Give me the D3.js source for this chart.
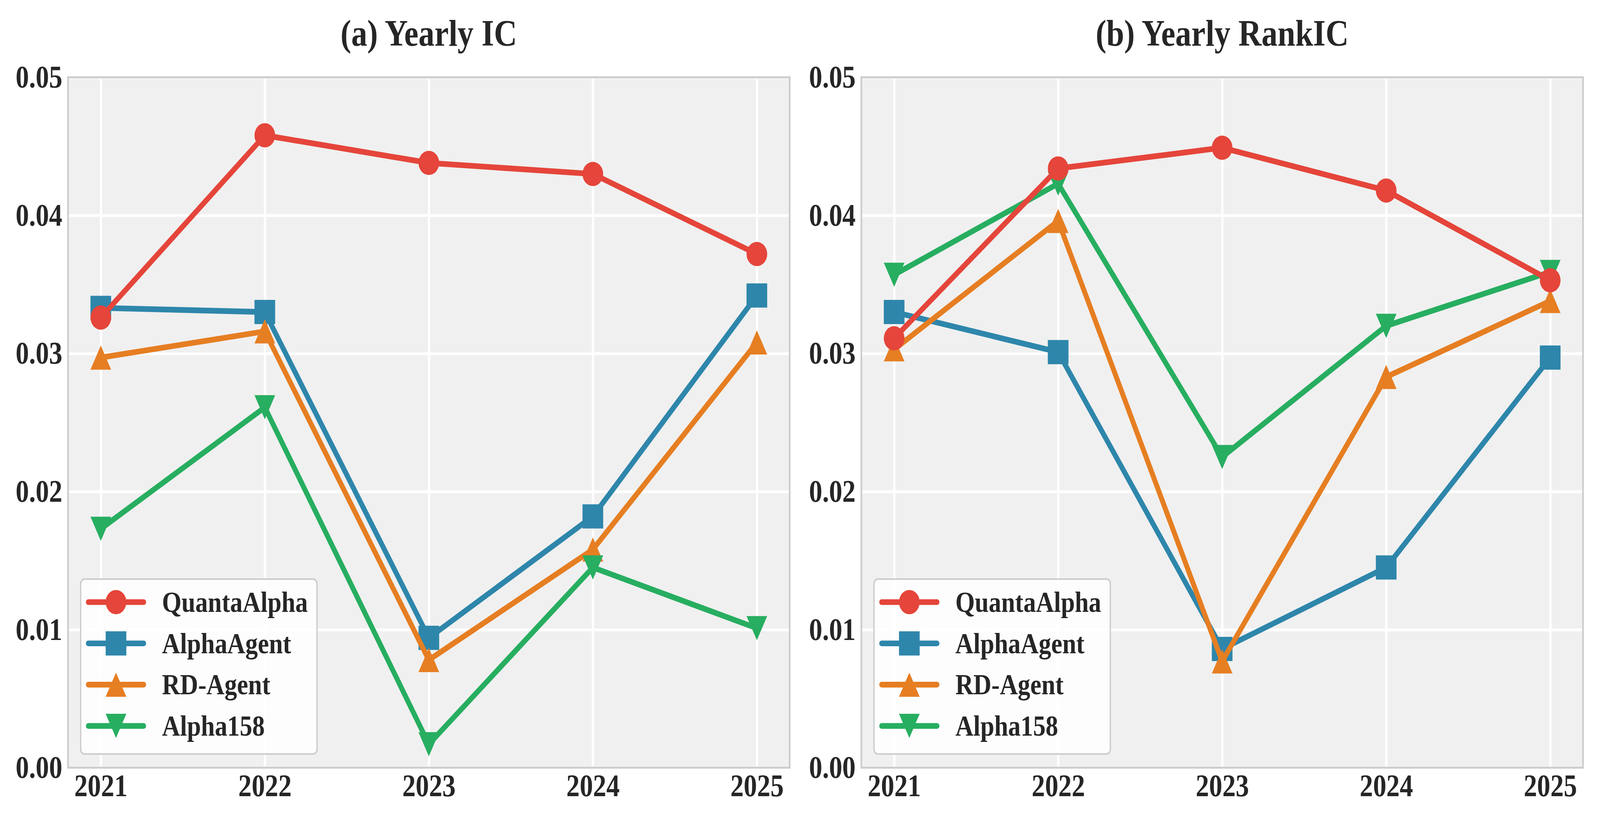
<!DOCTYPE html>
<html>
<head>
<meta charset="utf-8">
<script src="https://cdn.jsdelivr.net/npm/d3@7"></script>
<style>
  html, body { margin: 0; padding: 0; background: #fff; overflow: hidden; }
  svg { display: block; }
  svg text { font-family: "Liberation Serif", "Times New Roman", serif; font-weight: bold; fill: #262626; }
</style>
</head>
<body>
<script>
// data
var years = [2021, 2022, 2023, 2024, 2025];
var seriesNames = ["QuantaAlpha", "AlphaAgent", "RD-Agent", "Alpha158"];
var icQuantaAlpha = [0.0326, 0.0458, 0.0438, 0.0430, 0.0372];
var icAlphaAgent  = [0.0333, 0.0330, 0.0094, 0.0182, 0.0342];
var icRDAgent     = [0.0297, 0.0316, 0.0078, 0.0158, 0.0308];
var icAlpha158    = [0.0173, 0.0261, 0.0017, 0.0145, 0.0101];
var rankQuantaAlpha = [0.0311, 0.0434, 0.0449, 0.0418, 0.0353];
var rankAlphaAgent  = [0.0330, 0.0301, 0.0086, 0.0145, 0.0297];
var rankRDAgent     = [0.0303, 0.0396, 0.0077, 0.0283, 0.0338];
var rankAlpha158    = [0.0357, 0.0423, 0.0225, 0.0320, 0.0359];
var yTicks = [0, 0.01, 0.02, 0.03, 0.04, 0.05];
var titles = ["(a) Yearly IC", "(b) Yearly RankIC"];

var colors = {"QuantaAlpha": "#e5453a", "AlphaAgent": "#2e86ab", "RD-Agent": "#e67e22", "Alpha158": "#27ae60"};
var markers = {"QuantaAlpha": "circle", "AlphaAgent": "square", "RD-Agent": "up", "Alpha158": "down"};

var panels = [
  {title: titles[0], left: 204, values: {"QuantaAlpha": icQuantaAlpha, "AlphaAgent": icAlphaAgent, "RD-Agent": icRDAgent, "Alpha158": icAlpha158}},
  {title: titles[1], left: 2584, values: {"QuantaAlpha": rankQuantaAlpha, "AlphaAgent": rankAlphaAgent, "RD-Agent": rankRDAgent, "Alpha158": rankAlpha158}}
];

var W = 4800, H = 2100;
var plotTop = 198, plotH = 1768, plotW = 2165;
var ms = 62, lw = 14.6;

// drawing order: QuantaAlpha on top
var drawOrder = ["AlphaAgent", "RD-Agent", "Alpha158", "QuantaAlpha"];

function markerPath(type) {
  var r = ms / 2;
  if (type == "circle") return d3.symbol().type(d3.symbolCircle).size(Math.PI * r * r)();
  if (type == "square") return `M${-r},${-r}H${r}V${r}H${-r}Z`;
  if (type == "up") return `M0,${-r}L${r},${r}L${-r},${r}Z`;
  return `M0,${r}L${r},${-r}L${-r},${-r}Z`;
}

// the window is not always 4800 wide, so stretch the 4800x2100 drawing over it
var svg = d3.select("body").append("svg")
  .attr("viewBox", `0 0 ${W} ${H}`)
  .attr("preserveAspectRatio", "none")
  .attr("width", window.innerWidth)
  .attr("height", window.innerHeight);

panels.forEach(function(p) {
  var x = d3.scaleLinear().domain([2020.8, 2025.2]).range([0, plotW]);
  var y = d3.scaleLinear().domain([0, 0.05]).range([plotH, 0]);

  var g = svg.append("g").attr("transform", `translate(${p.left},${plotTop})`);

  g.append("rect")
    .attr("width", plotW).attr("height", plotH)
    .attr("fill", "#f0f0f0");

  // grid
  g.append("g")
    .attr("transform", `translate(0,${plotH})`)
    .call(d3.axisBottom(x).tickValues(years).tickSize(-plotH).tickFormat(""))
    .call(a => a.select(".domain").remove())
    .selectAll("line").attr("stroke", "#fff").attr("stroke-width", 7);
  g.append("g")
    .call(d3.axisLeft(y).tickValues(yTicks).tickSize(-plotW).tickFormat(""))
    .call(a => a.select(".domain").remove())
    .selectAll("line").attr("stroke", "#fff").attr("stroke-width", 7);

  g.append("rect")
    .attr("width", plotW).attr("height", plotH)
    .attr("fill", "none").attr("stroke", "#cccccc").attr("stroke-width", 5);

  // tick labels
  var xa = g.append("g")
    .attr("transform", `translate(0,${plotH})`)
    .call(d3.axisBottom(x).tickValues(years).tickSize(0).tickPadding(16).tickFormat(d3.format("d")));
  xa.select(".domain").remove();
  xa.selectAll("text").attr("font-size", 80).attr("font-family", null).attr("fill", "#262626");

  var ya = g.append("g")
    .call(d3.axisLeft(y).tickValues(yTicks).tickSize(0).tickPadding(17).tickFormat(d3.format(".2f")));
  ya.select(".domain").remove();
  ya.selectAll("text").attr("font-size", 80).attr("font-family", null).attr("fill", "#262626");

  g.append("text")
    .attr("x", plotW / 2).attr("y", -81)
    .attr("text-anchor", "middle")
    .attr("font-size", 96)
    .text(p.title);

  var line = d3.line()
    .x((d, i) => x(years[i]))
    .y(d => y(d));

  drawOrder.forEach(function(name) {
    var vals = p.values[name];
    g.append("path")
      .datum(vals)
      .attr("fill", "none")
      .attr("stroke", colors[name])
      .attr("stroke-width", lw)
      .attr("stroke-linejoin", "round")
      .attr("stroke-linecap", "round")
      .attr("d", line);
    g.selectAll(null)
      .data(vals)
      .enter().append("path")
      .attr("transform", (d, i) => `translate(${x(years[i])},${y(d)})`)
      .attr("d", markerPath(markers[name]))
      .attr("fill", colors[name]);
  });

  // legend
  var leg = g.append("g").attr("transform", `translate(38,${plotH - 35 - 448})`);
  leg.append("rect")
    .attr("width", 709).attr("height", 448)
    .attr("rx", 12).attr("ry", 12)
    .attr("fill", "#ffffff").attr("fill-opacity", 0.85)
    .attr("stroke", "#cccccc").attr("stroke-width", 4);

  seriesNames.forEach(function(name, i) {
    var cy = 59 + i * 105.7;
    leg.append("line")
      .attr("x1", 23).attr("x2", 189)
      .attr("y1", cy).attr("y2", cy)
      .attr("stroke", colors[name])
      .attr("stroke-width", lw)
      .attr("stroke-linecap", "round");
    leg.append("path")
      .attr("transform", `translate(106,${cy})`)
      .attr("d", markerPath(markers[name]))
      .attr("fill", colors[name]);
    leg.append("text")
      .attr("x", 244).attr("y", cy + 25)
      .attr("font-size", 75)
      .text(name);
  });
});
</script>
</body>
</html>
